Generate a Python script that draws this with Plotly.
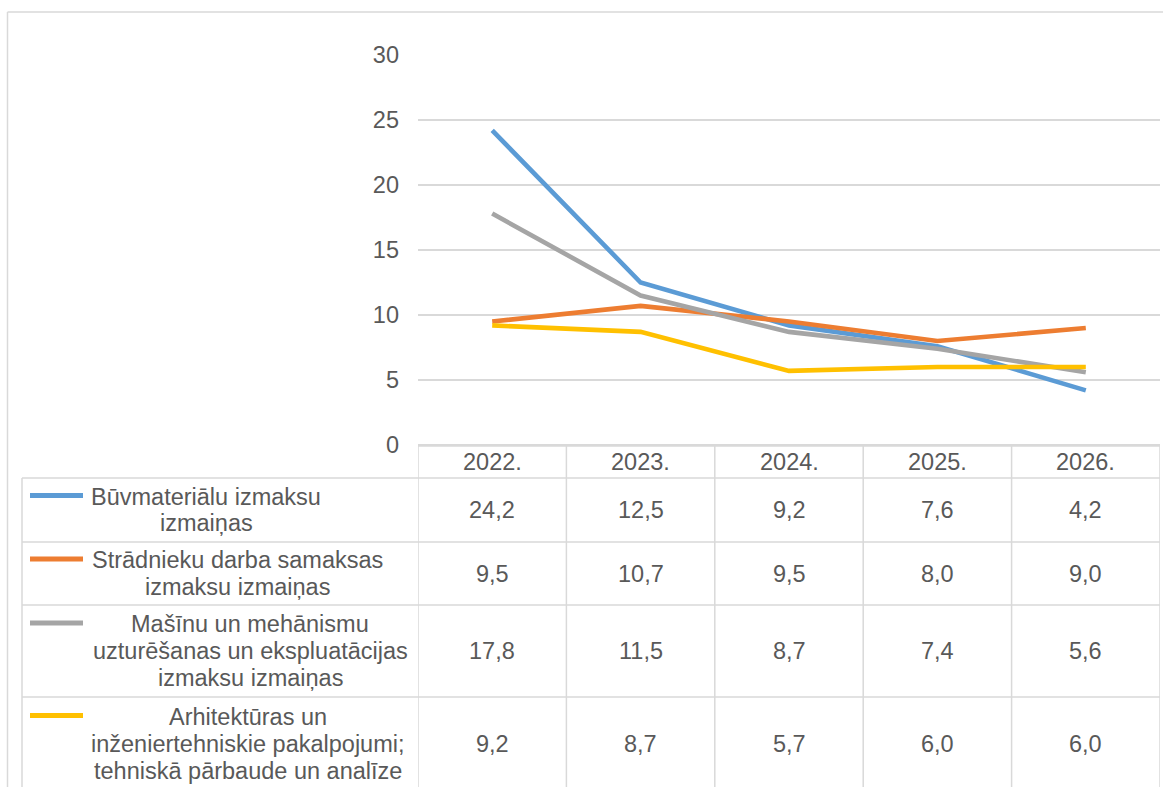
import plotly.graph_objects as go

# ---- data ----
years = ["2022.", "2023.", "2024.", "2025.", "2026."]
series_names = [
    ["Būvmateriālu izmaksu", "izmaiņas"],
    ["Strādnieku darba samaksas", "izmaksu izmaiņas"],
    ["Mašīnu un mehānismu", "uzturēšanas un ekspluatācijas", "izmaksu izmaiņas"],
    ["Arhitektūras un", "inženiertehniskie pakalpojumi;", "tehniskā pārbaude un analīze"],
]
buvmaterialu = [24.2, 12.5, 9.2, 7.6, 4.2]
stradnieku = [9.5, 10.7, 9.5, 8.0, 9.0]
masinu = [17.8, 11.5, 8.7, 7.4, 5.6]
arhitekturas = [9.2, 8.7, 5.7, 6.0, 6.0]
y_ticks = [0, 5, 10, 15, 20, 25, 30]

series_values = [buvmaterialu, stradnieku, masinu, arhitekturas]
colors = ["#5B9BD5", "#ED7D31", "#A5A5A5", "#FFC000"]

W, H = 1163, 787
FONT = "Liberation Sans, Arial, sans-serif"
TXT = "#595959"
GRID = "#D9D9D9"
FS = 23.5

def py(p):  # pixel y -> paper y
    return (H - p) / H

def px(p):
    return p / W

plot_left, plot_right = 418, 1160
plot_top, plot_bottom = 55, 445
# horizontal centre (px) of each legend-name text block in the table
name_block_centres = [206, 237, 250, 248]

fig = go.Figure()
for name, vals, col in zip(series_names, series_values, colors):
    fig.add_trace(go.Scatter(
        x=years, y=vals, mode="lines", name=" ".join(name),
        line=dict(color=col, width=4.6), showlegend=False, hoverinfo="x+y",
    ))

shapes = []
annotations = []

# outer chart border
shapes.append(dict(type="line", xref="paper", yref="paper", x0=px(7.5), x1=px(7.5),
                   y0=py(12), y1=py(800), line=dict(color=GRID, width=1.5)))
shapes.append(dict(type="line", xref="paper", yref="paper", x0=px(7.5), x1=px(1170),
                   y0=py(12), y1=py(12), line=dict(color=GRID, width=1.5)))

# table geometry (pixel rows)
header = (446, 478)
rows = [(478, 542), (542, 605), (605, 697), (697, 790)]
table_left = 22
line_style = dict(color=GRID, width=1.5)

# horizontal lines
shapes.append(dict(type="line", xref="x", yref="paper", x0=-0.5, x1=len(years) - 0.5,
                   y0=py(header[0]), y1=py(header[0]), line=line_style))
for r0, r1 in rows:
    shapes.append(dict(type="line", xref="paper", yref="paper", x0=px(table_left), x1=px(plot_right),
                       y0=py(r0), y1=py(r0), line=line_style))
shapes.append(dict(type="line", xref="paper", yref="paper", x0=px(table_left), x1=px(plot_right),
                   y0=py(rows[-1][1]), y1=py(rows[-1][1]), line=line_style))
# vertical lines
shapes.append(dict(type="line", xref="paper", yref="paper", x0=px(table_left), x1=px(table_left),
                   y0=py(rows[0][0]), y1=py(800), line=line_style))
for i in range(len(years) + 1):
    shapes.append(dict(type="line", xref="x", yref="paper", x0=i - 0.5, x1=i - 0.5,
                       y0=py(header[0]), y1=py(800), line=line_style))

# header labels
hy = (header[0] + header[1]) / 2
for i, yr in enumerate(years):
    annotations.append(dict(x=i, xref="x", y=py(hy), yref="paper", text=yr, showarrow=False,
                            xanchor="center", yanchor="middle", font=dict(family=FONT, size=FS, color=TXT)))

LS = 27.0
for (r0, r1), name_lines, vals, col, xc in zip(rows, series_names, series_values, colors, name_block_centres):
    cy = (r0 + r1) / 2
    n = len(name_lines)
    first = cy - (n - 1) * LS / 2
    # legend key
    shapes.append(dict(type="line", xref="paper", yref="paper", x0=px(30), x1=px(83),
                       y0=py(first - 1), y1=py(first - 1), line=dict(color=col, width=5)))
    for k, t in enumerate(name_lines):
        annotations.append(dict(x=px(xc), xref="paper", y=py(first + k * LS), yref="paper", text=t,
                                showarrow=False, xanchor="center", yanchor="middle",
                                font=dict(family=FONT, size=FS, color=TXT)))
    for i, v in enumerate(vals):
        annotations.append(dict(x=i, xref="x", y=py(cy), yref="paper",
                                text=f"{v:.1f}".replace(".", ","), showarrow=False,
                                xanchor="center", yanchor="middle",
                                font=dict(family=FONT, size=FS, color=TXT)))

fig.update_layout(
    width=W, height=H, margin=dict(l=0, r=0, t=0, b=0, autoexpand=False),
    paper_bgcolor="white", plot_bgcolor="white",
    shapes=shapes, annotations=annotations,
    xaxis=dict(domain=[px(plot_left), px(plot_right)], type="category", range=[-0.5, len(years) - 0.5],
               showgrid=False, showticklabels=False, zeroline=False, showline=False, fixedrange=True,
               automargin=False),
    yaxis=dict(domain=[py(plot_bottom), py(plot_top)], range=[0, 30], tickvals=y_ticks,
               showgrid=True, gridcolor=GRID, gridwidth=1.5, zeroline=True, zerolinecolor=GRID,
               zerolinewidth=1.5, showline=False, ticks="", ticklabelstandoff=18,
               tickfont=dict(family=FONT, size=FS, color=TXT), fixedrange=True, automargin=False),
    font=dict(family=FONT, color=TXT),
)

fig.write_html("out.html")
